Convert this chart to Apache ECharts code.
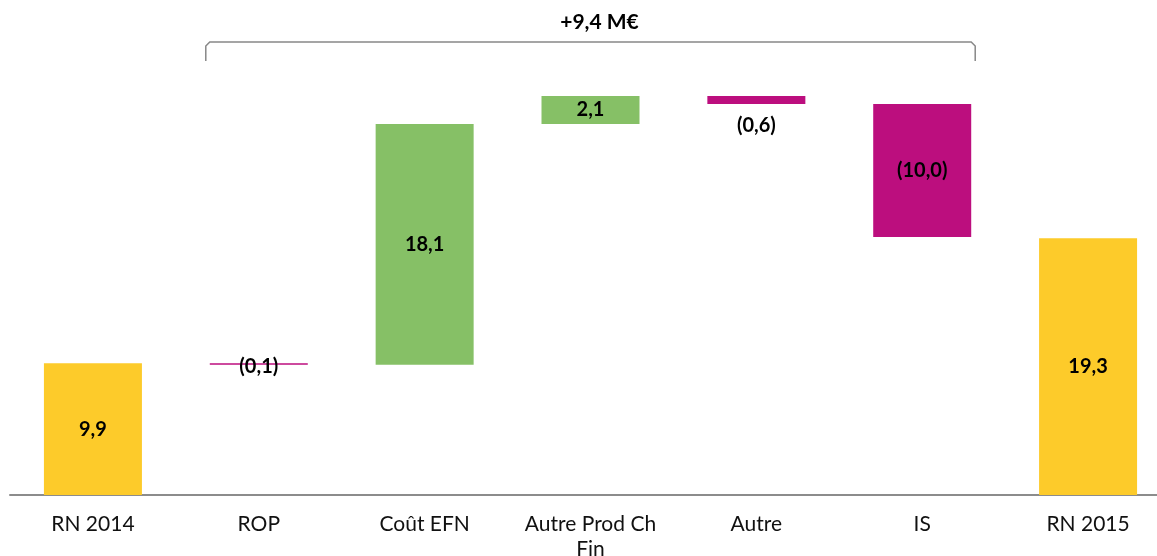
<!DOCTYPE html>
<html><head><meta charset="utf-8">
<script src="https://cdn.jsdelivr.net/npm/echarts@6/dist/echarts.min.js"></script>
<style>html,body{margin:0;padding:0;background:#fff;overflow:hidden}#c{width:1157px;height:556px}</style>
</head><body><div id="c"></div>
<script>
var categories = ['RN 2014', 'ROP', 'Coût EFN', 'Autre Prod Ch\nFin', 'Autre', 'IS', 'RN 2015'];
var deltas = [9.9, -0.1, 18.1, 2.1, -0.6, -10.0, 19.3];
var kinds = ['total', 'delta', 'delta', 'delta', 'delta', 'delta', 'total'];
var labels = ['9,9', '(0,1)', '18,1', '2,1', '(0,6)', '(10,0)', '19,3'];
var bracketText = '+9,4 M€';

var YELLOW = '#FDCB2A', GREEN = '#86C066', MAGENTA = '#BC0E7E';
var FONT = 'Lato';

var base = [], vis = [], running = 0;
for (var i = 0; i < deltas.length; i++) {
  var d = deltas[i];
  if (kinds[i] === 'total') {
    base.push(0); vis.push(d); running = d;
  } else {
    var next = running + d;
    base.push(Math.min(running, next));
    vis.push(Math.max(Math.abs(d), 0.04));
    running = next;
  }
}
function colorOf(i) {
  if (kinds[i] === 'total') return YELLOW;
  return deltas[i] >= 0 ? GREEN : MAGENTA;
}
var visData = vis.map(function (v, i) {
  var lbl = {show: true, formatter: labels[i], position: 'inside'};
  if (i === 4) { lbl.position = 'bottom'; lbl.distance = 12; }
  if (i === 1) { lbl.position = 'inside'; lbl.offset = [0, 3]; }
  return {value: v, itemStyle: {color: colorOf(i)}, label: lbl};
});

var chart = echarts.init(document.getElementById('c'));
chart.setOption({
  animation: false,
  grid: {left: 10, right: -14, top: 96, bottom: 61, containLabel: false, outerBoundsMode: 'none'},
  xAxis: {
    type: 'category', data: categories,
    axisLine: {lineStyle: {color: '#8c8c8c', width: 2}},
    axisTick: {show: false},
    axisLabel: {color: '#111', fontFamily: FONT, fontSize: 21, margin: 17, lineHeight: 25, interval: 0}
  },
  yAxis: {type: 'value', min: 0, max: 30, show: false, splitLine: {show: false}},
  series: [
    {type: 'bar', stack: 'w', data: base, itemStyle: {color: 'transparent'}, barWidth: 98, silent: true},
    {type: 'bar', stack: 'w', data: visData, barWidth: 98,
     label: {color: '#000', fontFamily: FONT, fontWeight: 'bold', fontSize: 20}}
  ]
});

var xL = chart.convertToPixel({xAxisIndex: 0}, categories[1]) - 53;
var xR = chart.convertToPixel({xAxisIndex: 0}, categories[5]) + 53;
var yTop = 42, yBot = 61, r = 4;
chart.setOption({
  graphic: [
    {type: 'polyline', shape: {points: [[xL, yBot], [xL, yTop + r], [xL + r, yTop], [xR - r, yTop], [xR, yTop + r], [xR, yBot]]},
     style: {stroke: '#888', lineWidth: 1.5, fill: null}},
    {type: 'text', x: (xL + xR) / 2 + 9, y: 22,
     style: {text: bracketText, fill: '#000', font: 'bold 21px ' + FONT, textAlign: 'center', textVerticalAlign: 'middle'}}
  ]
});
</script></body></html>
